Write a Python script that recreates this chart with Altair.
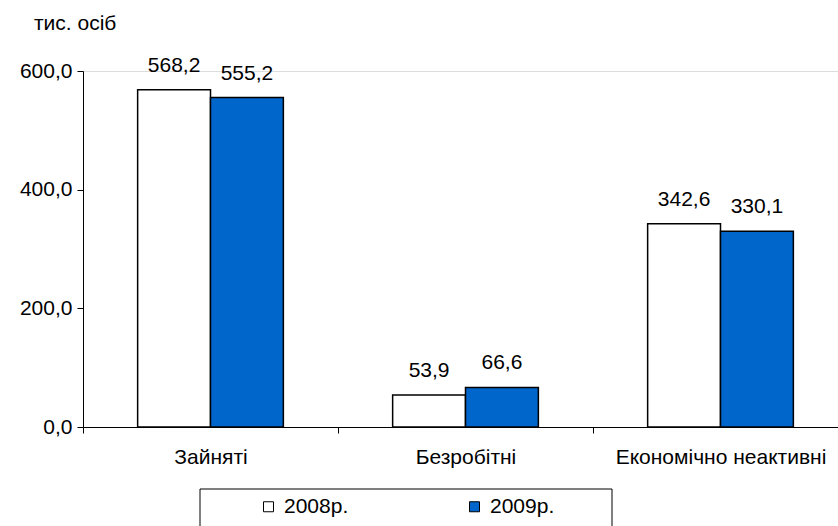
import altair as alt
import pandas as pd

categories = ["Зайняті", "Безробітні", "Економічно неактивні"]
years = ["2008р.", "2009р."]
v2008 = [568.2, 53.9, 342.6]
v2009 = [555.2, 66.6, 330.1]
unit_label = "тис. осіб"
y_ticks = [0, 200, 400, 600]

rows = []
for c, a, b in zip(categories, v2008, v2009):
    rows.append({"cat": c, "year": years[0], "value": a})
    rows.append({"cat": c, "year": years[1], "value": b})
df = pd.DataFrame(rows)

FONT = "Liberation Sans"
FS = 21

x = alt.X(
    "cat:N",
    sort=categories,
    scale=alt.Scale(range=[0, 765], paddingInner=0, paddingOuter=0),
    axis=alt.Axis(
        title=None, labelAngle=0, tickBand="extent", tickSize=6, tickColor="black",
        domainColor="black", labelColor="black", labelFont=FONT, labelFontSize=FS,
        labelPadding=13, labelLimit=400,
    ),
)
xoff = alt.XOffset("year:N", sort=years, scale=alt.Scale(paddingInner=0, paddingOuter=0.75))
y = alt.Y(
    "value:Q",
    scale=alt.Scale(domain=[0, 600], nice=False),
    axis=alt.Axis(
        title=None, values=y_ticks, grid=False, tickSize=6, tickColor="black",
        domainColor="black", labelColor="black", labelFont=FONT, labelFontSize=FS,
        labelPadding=5, labelExpr="replace(format(datum.value, '.1f'), '.', ',')",
    ),
)

bars = alt.Chart(df).mark_bar(stroke="black", strokeWidth=1.5).encode(
    x=x, xOffset=xoff, y=y,
    fill=alt.Fill(
        "year:N", sort=years,
        scale=alt.Scale(domain=years, range=["white", "#0066CC"]),
        legend=alt.Legend(
            title=None, orient="none", legendX=175, legendY=425, direction="horizontal",
            symbolType="square", symbolSize=100, symbolStrokeColor="black", symbolStrokeWidth=1,
            labelFont=FONT, labelFontSize=FS, labelColor="black", columnPadding=115,
            labelOffset=5,
        ),
    ),
)

labels = alt.Chart(df).transform_calculate(
    lbl="replace(format(datum.value, '.1f'), '.', ',')"
).mark_text(baseline="alphabetic", dy=-18, font=FONT, fontSize=FS, color="black").encode(
    x=x, xOffset=xoff, y=y, text="lbl:N"
)

unit = alt.Chart(pd.DataFrame({"t": [unit_label]})).mark_text(
    align="left", baseline="alphabetic", font=FONT, fontSize=FS, color="black"
).encode(x=alt.value(-49), y=alt.value(-41), text="t:N")

box = alt.Chart(pd.DataFrame({"t": [unit_label]})).mark_rect(
    fill="white", stroke="black", strokeWidth=1
).encode(x=alt.value(117), x2=alt.value(529), y=alt.value(418), y2=alt.value(475))

chart = alt.layer(box, bars, labels, unit).properties(
    width=755, height=356,
    autosize=alt.AutoSizeParams(type="none"),
    padding={"left": 83, "top": 71, "right": 0, "bottom": 99},
).configure_view(stroke=None).configure(background="white")

chart.save("out.html", embed_options={"renderer": "svg", "actions": False})
